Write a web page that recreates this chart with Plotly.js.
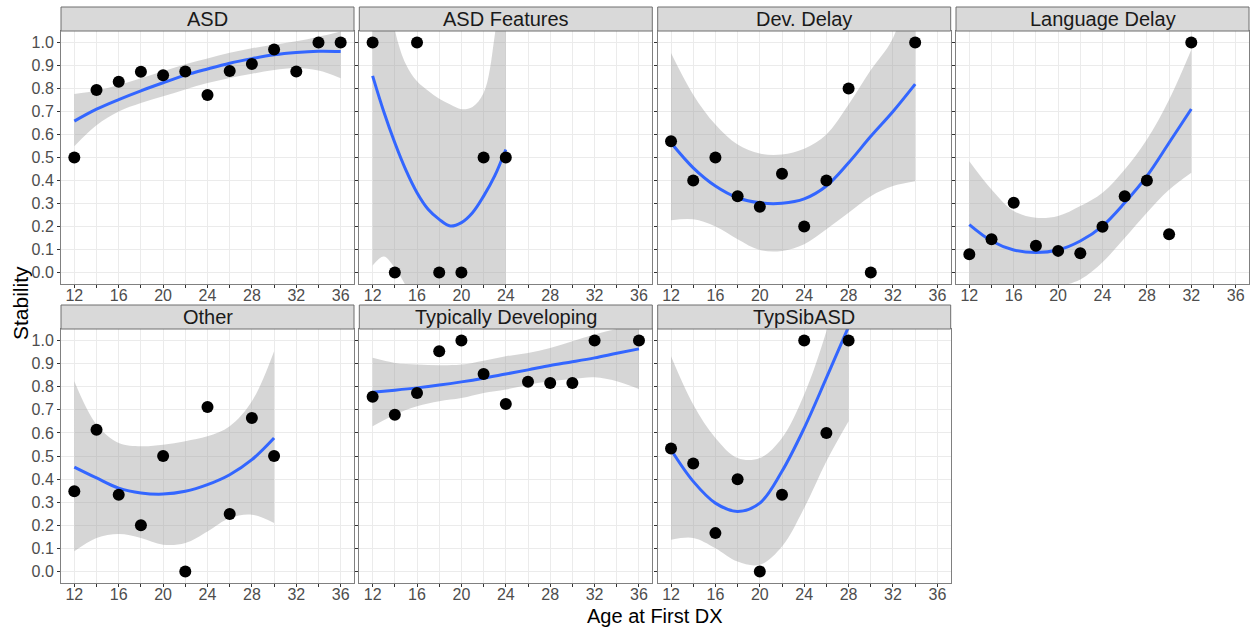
<!DOCTYPE html>
<html><head><meta charset="utf-8">
<script src="https://cdn.plot.ly/plotly-3.0.1.min.js"></script>
<style>html,body{margin:0;padding:0;background:#fff}#chart{width:1252px;height:627px}</style>
</head><body><div id="chart"></div>
<script>
const panelNames = ["ASD","ASD Features","Dev. Delay","Language Delay","Other","Typically Developing","TypSibASD"];
const xTickVals = [12,14,16,18,20,22,24,26,28,30,32,34,36];
const xTickText = ["12","","16","","20","","24","","28","","32","","36"];
const yTickVals = [0,0.1,0.2,0.3,0.4,0.5,0.6,0.7,0.8,0.9,1.0];
const yTickText = ["0.0","0.1","0.2","0.3","0.4","0.5","0.6","0.7","0.8","0.9","1.0"];

// ASD
const asdAge = [12,14,16,18,20,22,24,26,28,30,32,34,36];
const asdStab = [0.5,0.793,0.829,0.873,0.858,0.874,0.772,0.876,0.907,0.970,0.874,1.0,1.0];
const asdFitAge = [12,14,16,18,20,22,24,26,28,30,32,34,36];
const asdFit = [0.658,0.71,0.752,0.79,0.825,0.858,0.885,0.91,0.93,0.947,0.957,0.962,0.961];
const asdLower = [0.549,0.64,0.70,0.737,0.766,0.796,0.824,0.846,0.864,0.88,0.889,0.878,0.845];
const asdUpper = [0.776,0.79,0.815,0.845,0.875,0.905,0.93,0.955,0.975,0.99,1.005,1.025,1.048];

// ASD Features
const featAge = [12,14,16,18,20,22,24];
const featStab = [1.0,0.0,1.0,0.0,0.0,0.5,0.5];
const featFitAge = [12,13,14,15,16,17,18,19,20,21,22,23,24];
const featFit = [0.855,0.70,0.564,0.445,0.347,0.275,0.231,0.202,0.217,0.26,0.332,0.42,0.535];
const featLower = [0.03,0.07,0.02,-0.06,-0.2,-0.4,-0.5,-0.6,-0.6,-0.55,-0.45,-0.3,-0.2];
const featUpper = [2.0,1.4,1.055,0.905,0.831,0.79,0.755,0.73,0.71,0.72,0.78,1.03,1.6];

// Dev. Delay
const devAge = [12,14,16,18,20,22,24,26,28,30,34];
const devStab = [0.571,0.4,0.5,0.332,0.286,0.429,0.2,0.4,0.8,0.0,1.0];
const devFitAge = [12,14,16,18,20,22,24,26,28,30,32,34];
const devFit = [0.564,0.455,0.376,0.325,0.303,0.301,0.32,0.376,0.477,0.592,0.70,0.819];
const devLower = [0.227,0.231,0.2,0.145,0.098,0.094,0.123,0.188,0.26,0.332,0.376,0.397];
const devUpper = [0.954,0.773,0.643,0.556,0.517,0.513,0.538,0.6,0.73,0.88,1.02,1.35];

// Language Delay
const langAge = [12,14,16,18,20,22,24,26,28,30,32];
const langStab = [0.079,0.145,0.303,0.116,0.094,0.084,0.199,0.332,0.4,0.166,1.0];
const langFitAge = [12,14,16,18,20,22,24,26,28,30,32];
const langFit = [0.208,0.137,0.098,0.087,0.098,0.137,0.202,0.303,0.419,0.564,0.711];
const langLower = [-0.1,-0.07,-0.06,-0.065,-0.06,-0.03,0.045,0.15,0.26,0.36,0.434];
const langUpper = [0.484,0.361,0.267,0.238,0.246,0.289,0.347,0.448,0.578,0.751,0.968];

// Other
const othAge = [12,14,16,18,20,22,24,26,28,30];
const othStab = [0.347,0.614,0.332,0.2,0.5,0.0,0.712,0.249,0.665,0.5];
const othFitAge = [12,14,16,18,20,22,24,26,28,30];
const othFit = [0.452,0.405,0.361,0.34,0.335,0.347,0.376,0.419,0.484,0.578];
const othLower = [0.087,0.145,0.162,0.145,0.116,0.123,0.173,0.231,0.246,0.21];
const othUpper = [0.824,0.636,0.556,0.542,0.549,0.564,0.585,0.629,0.737,0.954];

// Typically Developing
const tdAge = [12,14,16,18,20,22,24,26,28,30,32,36];
const tdStab = [0.757,0.679,0.773,0.954,1.0,0.855,0.725,0.822,0.816,0.816,1.0,1.0];
const tdFitAge = [12,14,16,18,20,22,24,26,28,30,32,34,36];
const tdFit = [0.776,0.785,0.795,0.807,0.821,0.837,0.855,0.873,0.892,0.908,0.925,0.945,0.964];
const tdLower = [0.629,0.679,0.715,0.737,0.751,0.773,0.788,0.809,0.824,0.834,0.841,0.824,0.79];
const tdUpper = [0.925,0.903,0.896,0.893,0.896,0.913,0.932,0.946,0.968,0.997,1.026,1.05,1.06];

// TypSibASD
const sibAge = [12,14,16,18,20,22,24,26,28];
const sibStab = [0.532,0.468,0.166,0.399,0.0,0.332,1.0,0.6,1.0];
const sibFitAge = [12,14,16,18,20,22,24,26,28];
const sibFit = [0.527,0.39,0.296,0.26,0.296,0.434,0.621,0.838,1.06];
const sibLower = [0.137,0.145,0.101,0.043,0.029,0.108,0.275,0.477,0.65];
const sibUpper = [0.932,0.723,0.578,0.491,0.491,0.578,0.766,1.04,1.4];

const panels = [
  {x: asdAge, y: asdStab, fx: asdFitAge, fit: asdFit, lo: asdLower, hi: asdUpper},
  {x: featAge, y: featStab, fx: featFitAge, fit: featFit, lo: featLower, hi: featUpper},
  {x: devAge, y: devStab, fx: devFitAge, fit: devFit, lo: devLower, hi: devUpper},
  {x: langAge, y: langStab, fx: langFitAge, fit: langFit, lo: langLower, hi: langUpper},
  {x: othAge, y: othStab, fx: othFitAge, fit: othFit, lo: othLower, hi: othUpper},
  {x: tdAge, y: tdStab, fx: tdFitAge, fit: tdFit, lo: tdLower, hi: tdUpper},
  {x: sibAge, y: sibStab, fx: sibFitAge, fit: sibFit, lo: sibLower, hi: sibUpper}
];

const W = 1252, H = 627;
const colLeft = [61, 359.3, 657.7, 956];
const panelW = 293;
const rowPlot = [[31, 284], [329, 583]];
const rowStrip = [[7, 31], [305, 329]];

const traces = [];
const layout = {
  width: W, height: H,
  margin: {l: 0, r: 0, t: 0, b: 0},
  paper_bgcolor: '#ffffff', plot_bgcolor: '#ffffff',
  showlegend: false,
  font: {family: 'Liberation Sans, Arial, sans-serif', color: '#4d4d4d'},
  shapes: [], annotations: []
};

panels.forEach((p, i) => {
  const row = i < 4 ? 0 : 1;
  const col = i % 4;
  const xid = i === 0 ? 'x' : 'x' + (i + 1);
  const yid = i === 0 ? 'y' : 'y' + (i + 1);
  const xk = i === 0 ? 'xaxis' : 'xaxis' + (i + 1);
  const yk = i === 0 ? 'yaxis' : 'yaxis' + (i + 1);
  const x0 = colLeft[col], x1 = colLeft[col] + panelW;
  const [t, b] = rowPlot[row];
  layout[xk] = {
    domain: [x0 / W, x1 / W], anchor: yid, range: [10.8, 37.2],
    tickmode: 'array', tickvals: xTickVals, ticktext: xTickText,
    ticks: 'outside', ticklen: 3, tickwidth: 1, tickcolor: '#333333',
    ticklabelstandoff: -6,
    showgrid: true, gridcolor: '#ebebeb', gridwidth: 1, zeroline: false,
    showline: true, mirror: true, linecolor: '#808080', linewidth: 1,
    tickfont: {size: 16, color: '#4d4d4d'}, fixedrange: true
  };
  layout[yk] = {
    domain: [1 - b / H, 1 - t / H], anchor: xid, range: [-0.05, 1.05],
    tickmode: 'array', tickvals: yTickVals, ticktext: yTickText,
    showticklabels: col === 0,
    ticks: 'outside', ticklen: 3, tickwidth: 1, tickcolor: '#333333',
    showgrid: true, gridcolor: '#ebebeb', gridwidth: 1, zeroline: false,
    showline: true, mirror: true, linecolor: '#808080', linewidth: 1,
    tickfont: {size: 16, color: '#4d4d4d'}, fixedrange: true
  };
  // confidence band
  traces.push({x: p.fx, y: p.lo, xaxis: xid, yaxis: yid, mode: 'lines',
    line: {width: 0, shape: 'spline', color: 'rgba(0,0,0,0)'}, hoverinfo: 'skip'});
  traces.push({x: p.fx, y: p.hi, xaxis: xid, yaxis: yid, mode: 'lines', fill: 'tonexty',
    fillcolor: 'rgba(153,153,153,0.4)',
    line: {width: 0, shape: 'spline', color: 'rgba(0,0,0,0)'}, hoverinfo: 'skip'});
  // fit line
  traces.push({x: p.fx, y: p.fit, xaxis: xid, yaxis: yid, mode: 'lines',
    line: {width: 3, shape: 'spline', color: '#3366FF'}, hoverinfo: 'skip'});
  // points
  traces.push({x: p.x, y: p.y, xaxis: xid, yaxis: yid, mode: 'markers',
    marker: {size: 12, color: '#000000'}, cliponaxis: false});
  // strip
  const [st, sb] = rowStrip[row];
  layout.shapes.push({type: 'rect', xref: 'paper', yref: 'paper',
    x0: x0 / W, x1: x1 / W, y0: 1 - sb / H, y1: 1 - st / H,
    fillcolor: '#d9d9d9', line: {color: '#6e6e6e', width: 1}, layer: 'above'});
  layout.annotations.push({xref: 'paper', yref: 'paper', x: (x0 + x1) / 2 / W, y: 1 - (st + sb) / 2 / H,
    text: panelNames[i], showarrow: false, xanchor: 'center', yanchor: 'middle',
    font: {size: 20, color: '#1a1a1a'}});
});

layout.annotations.push({xref: 'paper', yref: 'paper', x: 655 / W, y: 1 - 616 / H,
  text: 'Age at First DX', showarrow: false, xanchor: 'center', yanchor: 'middle',
  font: {size: 20, color: '#000000'}});
layout.annotations.push({xref: 'paper', yref: 'paper', x: 20 / W, y: 1 - 303 / H,
  text: 'Stability', showarrow: false, textangle: -90, xanchor: 'center', yanchor: 'middle',
  font: {size: 21, color: '#000000'}});

Plotly.newPlot('chart', traces, layout, {staticPlot: true, displayModeBar: false});
</script>
</body></html>
